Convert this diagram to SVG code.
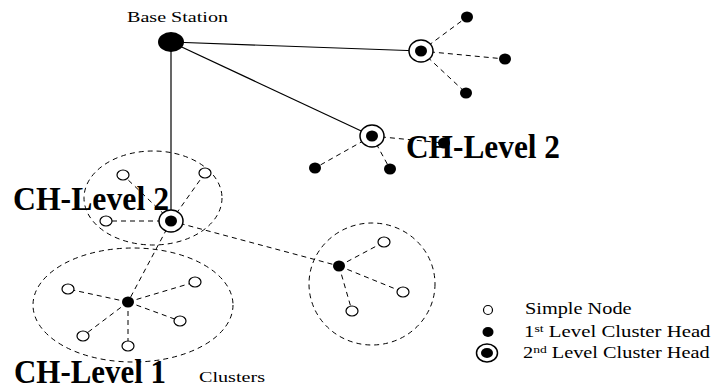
<svg xmlns="http://www.w3.org/2000/svg" width="712" height="390" viewBox="0 0 712 390">
<style>
.solid{stroke:#000;stroke-width:1.2;fill:none}
.dash{stroke:#000;stroke-width:1;stroke-dasharray:5 4;fill:none}
.cluster{stroke:#000;stroke-width:1;stroke-dasharray:5 4;fill:none}
.simple{fill:#fff;stroke:#000;stroke-width:1.2}
.ch1{fill:#000}
.ch2o{fill:#fff;stroke:#000;stroke-width:1.5}
.small{font-family:"Liberation Serif","Times New Roman",serif;font-size:15px;fill:#000}
.leg{font-family:"Liberation Serif","Times New Roman",serif;font-size:16px;fill:#000}
.big{font-family:"Liberation Serif","Times New Roman",serif;font-size:33px;font-weight:bold;fill:#000}
</style>
<rect width="712" height="390" fill="#fff"/>
<g id="clusters">
<ellipse class="cluster" cx="153" cy="198" rx="69" ry="47"/>
<ellipse class="cluster" cx="133" cy="305" rx="100" ry="57"/>
<ellipse class="cluster" cx="372" cy="284" rx="63" ry="61"/>
</g>
<g id="connectors">
<line class="solid" x1="171" y1="42" x2="421" y2="51"/>
<line class="solid" x1="171" y1="42" x2="372" y2="136"/>
<line class="solid" x1="171" y1="42" x2="171" y2="221"/>
<line class="dash" x1="421" y1="51" x2="467" y2="17"/>
<line class="dash" x1="421" y1="51" x2="505" y2="59"/>
<line class="dash" x1="421" y1="51" x2="466" y2="93"/>
<line class="dash" x1="372" y1="136" x2="315" y2="168"/>
<line class="dash" x1="372" y1="136" x2="390" y2="169"/>
<line class="dash" x1="372" y1="136" x2="444" y2="143"/>
<line class="dash" x1="171" y1="221" x2="123" y2="175"/>
<line class="dash" x1="171" y1="221" x2="205" y2="173"/>
<line class="dash" x1="171" y1="221" x2="106" y2="221"/>
<line class="dash" x1="171" y1="221" x2="128" y2="302"/>
<line class="dash" x1="171" y1="221" x2="339" y2="266"/>
<line class="dash" x1="128" y1="302" x2="68" y2="289"/>
<line class="dash" x1="128" y1="302" x2="195" y2="282"/>
<line class="dash" x1="128" y1="302" x2="180" y2="321"/>
<line class="dash" x1="128" y1="302" x2="83" y2="336"/>
<line class="dash" x1="128" y1="302" x2="128" y2="346"/>
<line class="dash" x1="339" y1="266" x2="384" y2="242"/>
<line class="dash" x1="339" y1="266" x2="403" y2="292"/>
<line class="dash" x1="339" y1="266" x2="352" y2="311"/>
</g>
<g id="base-station">
<ellipse class="ch1" cx="171" cy="42" rx="13" ry="10"/>
<text class="small" x="127" y="22" textLength="101" lengthAdjust="spacingAndGlyphs">Base Station</text>
</g>
<g id="ch2-top">
<ellipse class="ch2o" cx="421" cy="51" rx="12" ry="11"/>
<ellipse class="ch1" cx="421" cy="51" rx="6" ry="5.5"/>
</g>
<g id="ch2-top-members">
<ellipse class="ch1" cx="467" cy="17" rx="6" ry="5.5"/>
<ellipse class="ch1" cx="505" cy="59" rx="6" ry="5.5"/>
<ellipse class="ch1" cx="466" cy="93" rx="6" ry="5.5"/>
</g>
<g id="ch2-mid">
<ellipse class="ch2o" cx="372" cy="136" rx="12" ry="11"/>
<ellipse class="ch1" cx="372" cy="136" rx="6" ry="5.5"/>
</g>
<g id="ch2-mid-members">
<ellipse class="ch1" cx="315" cy="168" rx="6" ry="5.5"/>
<ellipse class="ch1" cx="390" cy="169" rx="6" ry="5.5"/>
<ellipse class="ch1" cx="444" cy="143" rx="6" ry="5.5"/>
</g>
<g id="ch2-left">
<ellipse class="ch2o" cx="171" cy="221" rx="12" ry="11"/>
<ellipse class="ch1" cx="171" cy="221" rx="6" ry="5.5"/>
</g>
<g id="upper-cluster-nodes">
<ellipse class="simple" cx="123" cy="175" rx="6" ry="5"/>
<ellipse class="simple" cx="205" cy="173" rx="6" ry="5"/>
<ellipse class="simple" cx="106" cy="221" rx="6" ry="5"/>
</g>
<g id="ch1-lower">
<ellipse class="ch1" cx="128" cy="302" rx="6" ry="5.5"/>
</g>
<g id="lower-cluster-nodes">
<ellipse class="simple" cx="68" cy="289" rx="6" ry="5"/>
<ellipse class="simple" cx="195" cy="282" rx="6" ry="5"/>
<ellipse class="simple" cx="180" cy="321" rx="6" ry="5"/>
<ellipse class="simple" cx="83" cy="336" rx="6" ry="5"/>
<ellipse class="simple" cx="128" cy="346" rx="6" ry="5"/>
</g>
<g id="ch1-right">
<ellipse class="ch1" cx="339" cy="266" rx="6" ry="5.5"/>
</g>
<g id="right-cluster-nodes">
<ellipse class="simple" cx="384" cy="242" rx="6" ry="5"/>
<ellipse class="simple" cx="403" cy="292" rx="6" ry="5"/>
<ellipse class="simple" cx="352" cy="311" rx="6" ry="5"/>
</g>
<g id="labels">
<text class="big" x="406" y="158" textLength="154" lengthAdjust="spacingAndGlyphs">CH-Level 2</text>
<text class="big" x="13" y="210" textLength="156" lengthAdjust="spacingAndGlyphs">CH-Level 2</text>
<text class="big" x="14" y="383" font-size="31" textLength="152" lengthAdjust="spacingAndGlyphs">CH-Level 1</text>
<text class="small" x="199" y="382" textLength="66" lengthAdjust="spacingAndGlyphs">Clusters</text>
</g>
<g id="legend">
<ellipse class="simple" cx="488" cy="310" rx="4.5" ry="4.5"/>
<ellipse class="ch1" cx="488" cy="332" rx="5.5" ry="5"/>
<ellipse class="ch2o" cx="487" cy="353" rx="10.5" ry="9"/>
<ellipse class="ch1" cx="487" cy="353" rx="6" ry="5"/>
<text class="leg" transform="translate(525,314) scale(1.27,1)">Simple Node</text>
<text class="leg" transform="translate(524,337) scale(1.3,1)">1<tspan dy="-5" font-size="10.7">st</tspan><tspan dy="5"> Level Cluster Head</tspan></text>
<text class="leg" transform="translate(523,358) scale(1.27,1)">2<tspan dy="-5" font-size="10.7">nd</tspan><tspan dy="5"> Level Cluster Head</tspan></text>
</g>
</svg>
